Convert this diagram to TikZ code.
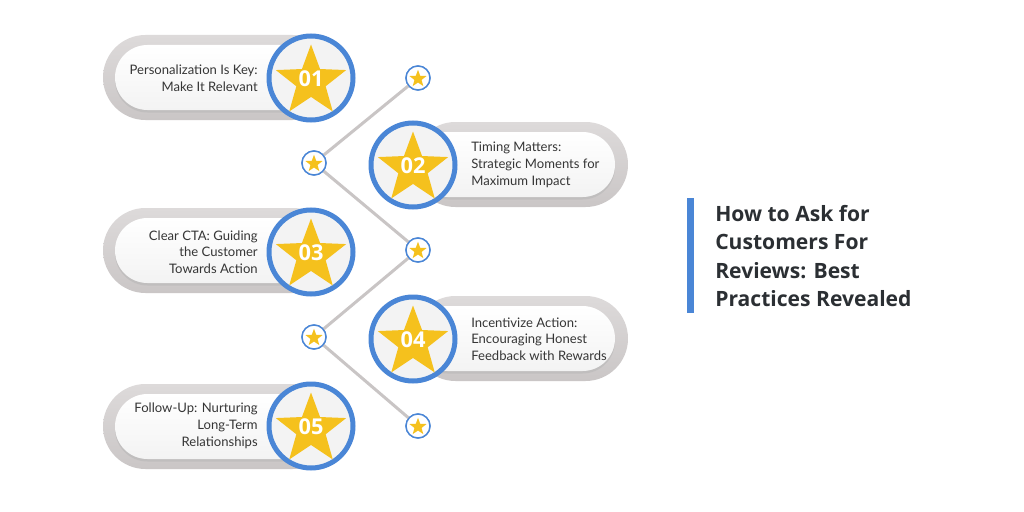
\documentclass[tikz,border=0pt]{standalone}
\usepackage{fontspec}
\setmainfont{Lato}
\newfontfamily\titlefont{Open Sans}
\usetikzlibrary{shapes.geometric,shapes.misc}
\definecolor{cblue}{HTML}{4A86D6}
\definecolor{cgold}{HTML}{F5C11D}
\definecolor{cline}{HTML}{C9C5C5}
\definecolor{ctext}{HTML}{363636}
\definecolor{ctitle}{HTML}{2B2F33}
\definecolor{pillout}{HTML}{CAC6C6}
\definecolor{pilltop}{HTML}{DDDADA}
\definecolor{pillin}{HTML}{F3F3F3}
\definecolor{circfill}{HTML}{F3F3F3}
\tikzset{
  outerpill/.style={rounded rectangle, draw=none, top color=pilltop, bottom color=pillout, minimum height=85*0.025cm, inner sep=0pt},
  pillshadow/.style={rounded rectangle, draw=none, fill=black!30, opacity=0.45, minimum height=65*0.025cm, inner sep=0pt},
  innerpill/.style={rounded rectangle, draw=none, top color=white, bottom color=pillin, minimum height=65*0.025cm, inner sep=0pt},
  bigcirc/.style={circle, draw=cblue, line width=5*0.025cm, fill=circfill, minimum size=84*0.025cm, inner sep=0pt},
  bigstar/.style={star, star points=5, star point ratio=2.4, fill=cgold, draw=none, minimum size=74*0.025cm, inner sep=0pt},
  numtext/.style={text=white, font=\titlefont\fontsize{15.5}{15.5}\selectfont\bfseries},
  smallcirc/.style={circle, draw=cblue, line width=1.4*0.025cm, fill=white, minimum size=24*0.025cm, inner sep=0pt},
  smallstar/.style={star, star points=5, star point ratio=2.4, fill=cgold, draw=none, minimum size=18*0.025cm, inner sep=0pt},
  connector/.style={draw=cline, line width=3*0.025cm},
  bodytext/.style={text=ctext, font=\fontsize{9.3}{11.9}\selectfont, inner sep=0pt},
  titletext/.style={text=ctitle, font=\titlefont\fontsize{15}{20.1}\selectfont\bfseries, inner sep=0pt, align=left}
}
\begin{document}
\begin{tikzpicture}[x=0.025cm,y=-0.025cm]
\useasboundingbox[fill=white] (0,0) rectangle (1024,512);

% connector nodes
\node[smallcirc] (s1) at (418,78) {};
\node[smallcirc] (s2) at (314,163) {};
\node[smallcirc] (s3) at (418,250) {};
\node[smallcirc] (s4) at (314,337) {};
\node[smallcirc] (s5) at (418,426) {};
\draw[connector] (s1.center) -- (s2.center) -- (s3.center) -- (s4.center) -- (s5.center);
\foreach \n/\x/\y in {s1/418/78,s2/314/163,s3/418/250,s4/314/337,s5/418/426}{
  \node[smallcirc] at (\x,\y) {};
  \node[smallstar] at (\x,\y+0.8) {};
}

% pills left side (1,3,5)
\foreach \i/\y in {1/77.5,3/250.5,5/426.5}{
  \node[outerpill, minimum width=232*0.025cm] (po\i) at (219,\y) {};
  \node[pillshadow, minimum width=210*0.025cm] at (220,\y+2.5) {};
  \node[innerpill, minimum width=210*0.025cm] (pi\i) at (220,\y) {};
}
% pills right side (2,4)
\foreach \i/\y in {2/164.5,4/338.5}{
  \node[outerpill, minimum width=215*0.025cm] (po\i) at (520.5,\y) {};
  \node[pillshadow, minimum width=200*0.025cm] at (515,\y+2.5) {};
  \node[innerpill, minimum width=200*0.025cm] (pi\i) at (515,\y) {};
}

% big circles with stars
\foreach \i/\x/\y in {1/311/78,2/413/165,3/311/252,4/413/339,5/311/426}{
  \node[bigcirc] (c\i) at (\x,\y) {};
  \node[bigstar] (st\i) at (\x,\y+3.5) {};
  \node[numtext] (n\i) at (\x,\y+0.5) {0\i};
}

% texts
\node[bodytext, align=right, anchor=east] (t1) at (258,78) {Personalization Is Key:\\Make It Relevant};
\node[bodytext, align=left, anchor=west] (t2) at (471,165) {Timing Matters:\\Strategic Moments for\\Maximum Impact};
\node[bodytext, align=right, anchor=east] (t3) at (258,252) {Clear CTA: Guiding\\the Customer\\Towards Action};
\node[bodytext, align=left, anchor=west] (t4) at (471,339) {Incentivize Action:\\Encouraging Honest\\Feedback with Rewards};
\node[bodytext, align=right, anchor=east] (t5) at (258,426) {Follow-Up: Nurturing\\Long-Term\\Relationships};

% title
\fill[cblue] (687,198) rectangle (694,313);
\node[titletext, anchor=west] (title) at (715,256) {How to Ask for\\Customers For\\Reviews: Best\\Practices Revealed};
\end{tikzpicture}
\end{document}
